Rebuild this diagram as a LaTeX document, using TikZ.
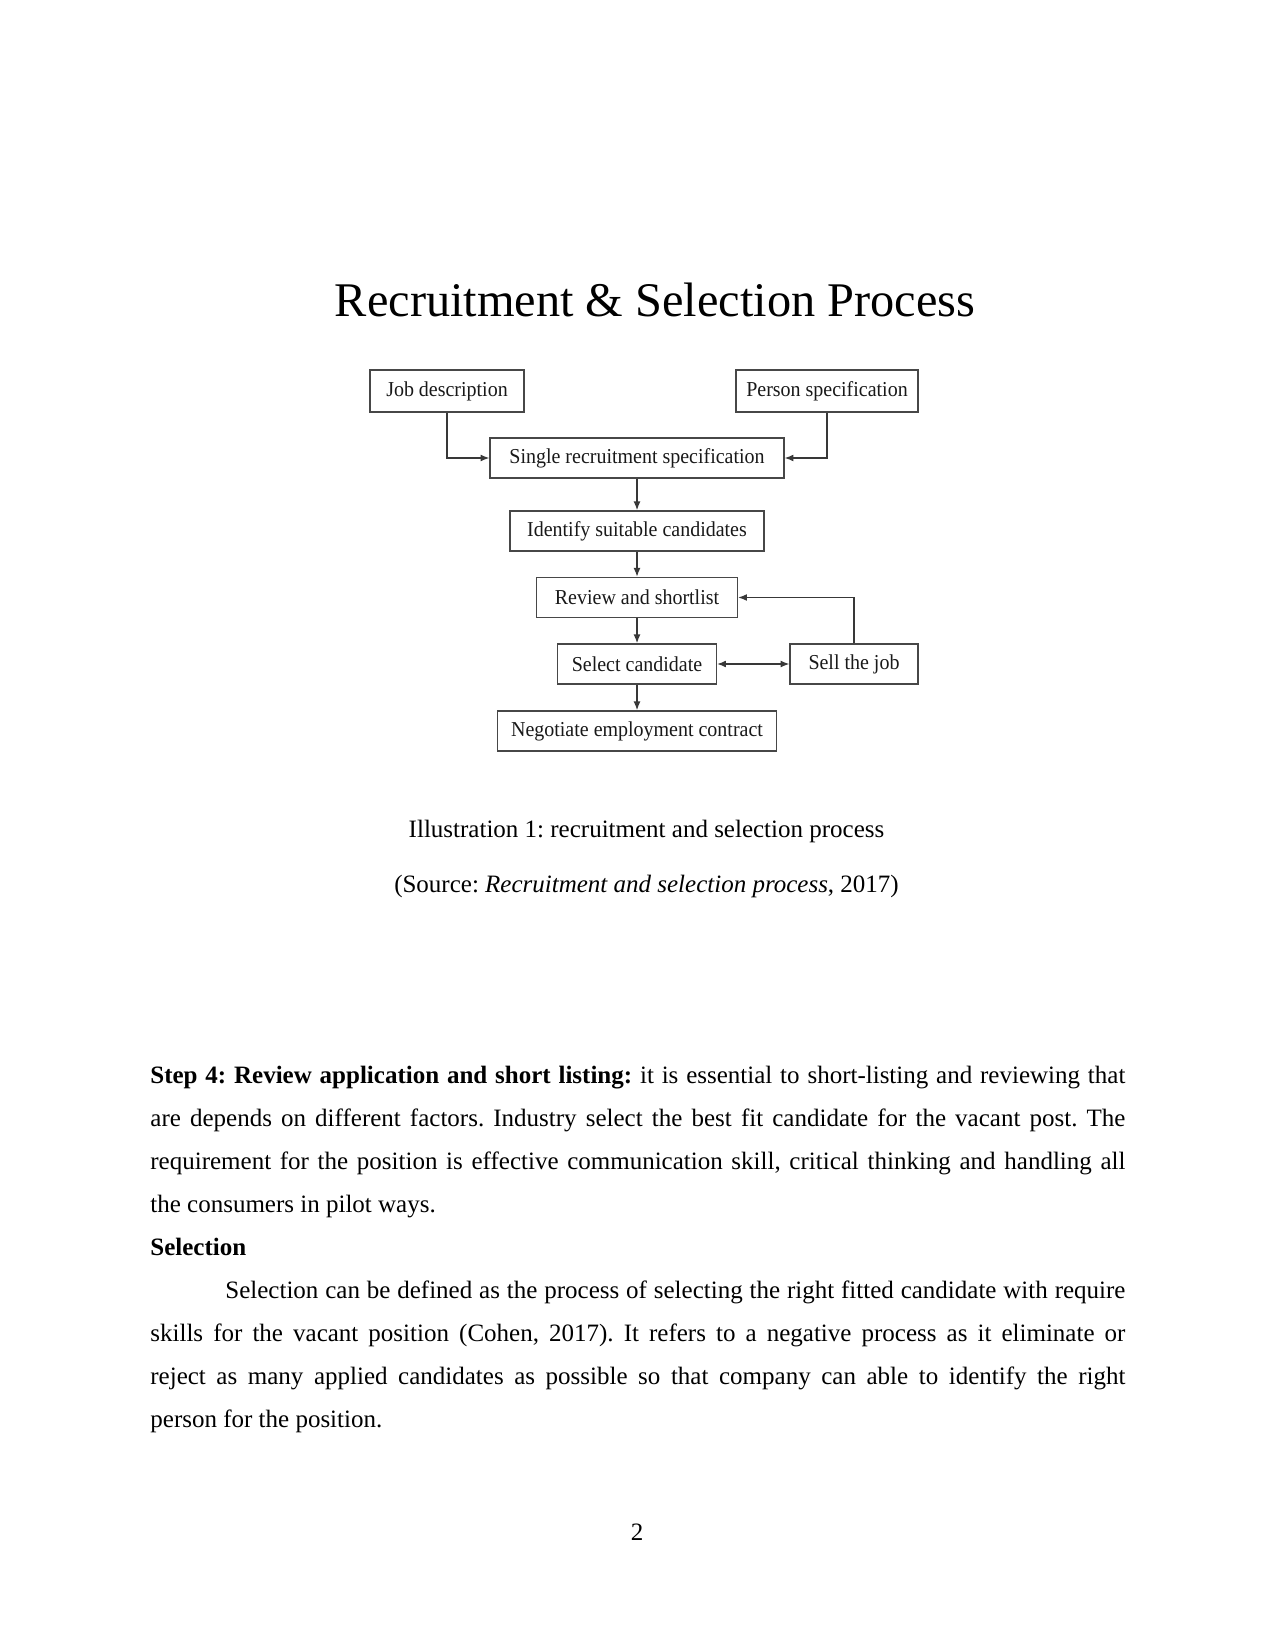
\documentclass[tikz,border=0pt]{standalone}
\usepackage{fontspec}
\setmainfont{Liberation Serif}
\usetikzlibrary{arrows.meta}
\frenchspacing
\newcommand{\boxtxt}[1]{\scalebox{0.94}[1]{#1}}
\tikzset{
  proc/.style={draw=black!72, line width=0.65pt, inner sep=0pt, minimum height=19.3pt,
    font=\fontsize{10.2}{12}\selectfont, text=black!90},
  arr/.style={draw=black!78, line width=0.6pt, -{Latex[length=4.2pt,width=3.3pt]}},
  darr/.style={draw=black!78, line width=0.6pt, {Latex[length=4.2pt,width=3.3pt]}-{Latex[length=4.2pt,width=3.3pt]}},
  body/.style={anchor=base west, inner sep=0pt, font=\fontsize{12}{14}\selectfont},
  captext/.style={anchor=base, inner sep=0pt, font=\fontsize{12}{14}\selectfont}
}
\begin{document}
\begin{tikzpicture}[x=0.48pt,y=-0.48pt]
\useasboundingbox[fill=white] (0,0) rectangle (1275,1650);

% title
\node[anchor=base, inner sep=0pt, font=\fontsize{23.2}{28}\selectfont] (title) at (655,317) {Recruitment \& Selection Process};

% boxes
\node[proc, minimum width=73.9pt, minimum height=20.2pt] (jd) at (447,391) {\boxtxt{Job description}};
\node[proc, minimum width=87.4pt, minimum height=20.2pt] (ps) at (827,391) {\boxtxt{Person specification}};
\node[proc, minimum width=141.1pt] (srs) at (637,458) {\boxtxt{Single recruitment specification}};
\node[proc, minimum width=121.9pt] (isc) at (637,531) {\boxtxt{Identify suitable candidates}};
\node[proc, minimum width=96.5pt] (rs) at (637,597.5) {\boxtxt{Review and shortlist}};
\node[proc, minimum width=76.3pt] (sc) at (637,664) {\boxtxt{Select candidate}};
\node[proc, minimum width=61.4pt] (sj) at (854,664) {\boxtxt{Sell the job}};
\node[proc, minimum width=133.9pt] (nec) at (637,731) {\boxtxt{Negotiate employment contract}};

% connectors
\draw[arr] (jd.south) |- (srs.west);
\draw[arr] (ps.south) |- (srs.east);
\draw[arr] (srs) -- (isc);
\draw[arr] (isc) -- (rs);
\draw[arr] (rs) -- (sc);
\draw[arr] (sc) -- (nec);
\draw[darr] (sc) -- (sj);
\draw[arr] (sj.north) |- (rs.east);

% caption
\node[captext] (c1) at (646.5,837) {Illustration 1: recruitment and selection process};
\node[captext] (c2) at (646.5,892) {(Source: \textit{Recruitment and selection process}, 2017)};

% body text
\node[body] (l1) at (150,1083) {\makebox[468pt][s]{\textbf{Step 4: Review application and short listing:} it is essential to short-listing and reviewing that}};
\node[body] (l2) at (150,1126) {\makebox[468pt][s]{are depends on different factors. Industry select the best fit candidate for the vacant post. The}};
\node[body] (l3) at (150,1169) {\makebox[468pt][s]{requirement for the position is effective communication skill, critical thinking and handling all}};
\node[body] (l4) at (150,1212) {the consumers in pilot ways.};
\node[body] (l5) at (150,1255) {\textbf{Selection}};
\node[body] (l6) at (225,1298) {\makebox[432pt][s]{Selection can be defined as the process of selecting the right fitted candidate with require}};
\node[body] (l7) at (150,1341) {\makebox[468pt][s]{skills for the vacant position (Cohen, 2017). It refers to a negative process as it eliminate or}};
\node[body] (l8) at (150,1384) {\makebox[468pt][s]{reject as many applied candidates as possible so that company can able to identify the right}};
\node[body] (l9) at (150,1427) {person for the position.};

% page number
\node[captext] (pg) at (637,1540) {2};
\end{tikzpicture}
\end{document}
